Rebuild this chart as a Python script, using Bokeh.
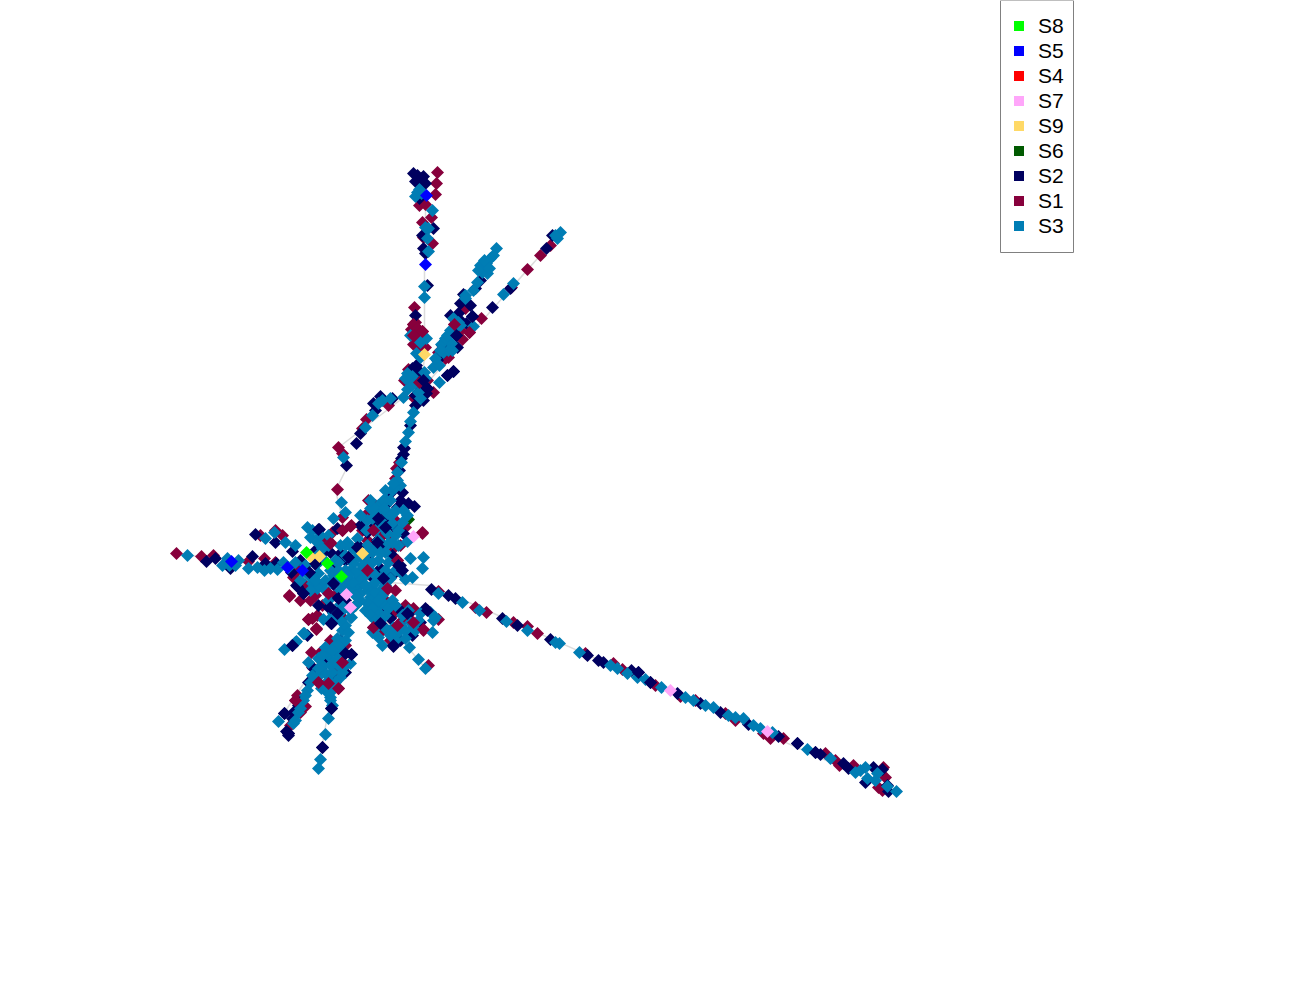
from math import pi, nan
from bokeh.plotting import figure
from bokeh.models import Legend, LegendItem, BoxAnnotation
from bokeh.embed import file_html
from bokeh.resources import INLINE

S1 = [(437,172),(436,183),(435,194),(419,205),(425,204),(431,217),(422,222),(432,243),(423,237),
(414,307),(413,324),(417,328),(422,331),(413,335),(418,337),(413,344),(425,347),(418,347),(411,329),(415,322),(420,340),
(408,369),(404,380),(419,382),(433,392),(413,397),(399,462),(395,478),(396,468),(410,376),(427,380),
(465,308),(454,324),(469,332),(462,339),(438,352),(448,357),(481,318),(460,330),(445,358),
(540,255),(527,269),(511,287),(550,245),
(388,405),(366,419),(338,447),(342,453),(362,428),
(337,489),(342,530),(351,525),(342,517),(367,513),(373,527),(390,537),(380,537),(422,532),(393,548),(373,548),(397,560),(330,542),(387,589),(375,505),(385,512),(362,530),(405,527),(400,545),(367,540),(380,525),(395,520),(368,500),
(328,593),(308,619),(317,615),(316,629),(289,596),(295,578),(342,617),(373,627),(413,608),(412,622),(423,630),(438,619),(402,620),(367,610),(428,665),(335,595),(322,605),(300,600),(395,612),(405,605),(390,640),(380,632),(395,590),(385,600),(345,605),(315,595),(365,570),
(176,553),(201,556),(213,555),(248,561),(264,558),(275,562),(302,591),(275,530),(260,535),(282,535),(293,577),(305,585),(297,570),(325,540),(332,532),(300,565),(310,600),
(308,619),(342,617),(311,652),(320,652),(342,662),(318,682),(328,683),(338,688),(295,700),(290,725),(300,712),(312,667),(297,695),(305,706),(330,640),(335,670),(345,645),
(438,591),(475,607),(486,612),(513,622),(527,626),(537,633),(585,653),(613,663),(622,669),(655,685),(680,696),(695,700),(725,713),(735,720),(763,733),(770,738),(783,738),(825,753),(835,760),(839,765),(853,765),(883,767),(885,777),(878,787),(882,790)]

S2 = [(413,173),(417,175),(423,176),(415,181),(425,183),(421,178),(419,198),(433,228),(422,235),(423,248),(425,253),(427,285),
(415,315),(417,370),(416,365),(423,380),(427,388),(423,400),(422,395),(453,371),(447,375),(415,405),(410,425),(403,447),(403,454),(420,372),(426,393),(418,385),(412,378),(415,395),(424,392),(418,375),(412,368),(399,470),(401,458),(404,448),
(480,280),(475,288),(463,294),(460,303),(458,313),(472,316),(466,323),(456,335),(445,340),(457,347),(437,360),(452,330),(440,355),(448,345),(460,320),(442,345),(470,305),(450,315),
(552,235),(546,248),(492,307),(510,288),
(380,396),(373,403),(392,398),(375,410),(360,433),(356,443),(346,465),
(402,492),(414,506),(408,503),(390,493),(397,507),(378,517),(377,540),(370,560),(337,528),(319,529),(340,553),(348,557),(330,552),(367,532),(385,520),(372,510),(400,500),(385,505),(375,525),(395,528),(360,525),(405,535),(383,545),(392,555),
(387,577),(373,578),(333,584),(328,607),(338,597),(398,608),(382,625),(393,646),(408,614),(425,608),(358,545),(303,593),(297,586),(331,623),(380,568),(392,575),(400,565),(345,560),(320,560),(335,612),(318,605),(345,600),(390,618),(420,622),(412,635),(400,640),(385,612),(350,560),(335,565),
(206,561),(215,558),(230,568),(252,556),(265,563),(276,563),(255,534),(275,542),(292,551),(291,572),(296,585),(315,564),(318,530),(308,572),(300,560),(325,550),(315,550),
(284,713),(292,718),(288,733),(322,747),(331,708),(331,623),(307,635),(292,645),(351,654),(345,653),(325,658),(313,668),(302,700),(293,712),(308,682),(332,677),(340,640),(335,650),(345,672),(320,668),(298,705),(288,735),(286,731),
(431,589),(448,595),(455,598),(502,618),(517,625),(550,639),(587,655),(598,660),(603,662),(638,672),(631,670),(650,682),(677,693),(700,703),(720,712),(748,724),(778,736),(797,743),(815,752),(820,754),(843,763),(848,768),(873,767),(882,769),(865,782),(888,791),(887,785)]

S3 = [(417,192),(419,189),(432,210),(425,227),(428,228),(427,238),(428,251),(424,286),(424,297),(421,193),(415,196),
(426,338),(420,342),(410,335),(416,353),(420,357),
(407,373),(409,380),(407,389),(403,397),(424,372),(433,367),(439,365),(439,382),(418,392),(413,412),(410,421),(408,432),(405,441),(397,472),(412,376),(415,382),(400,485),(392,490),(386,500),(412,385),(405,378),(420,398),(425,378),(401,462),(397,480),(394,487),
(496,248),(493,255),(490,258),(484,267),(482,272),(487,273),(477,282),(473,290),(465,295),(450,330),(453,318),(458,322),(441,344),(451,343),(443,352),(448,350),(473,326),(480,265),(486,263),(478,270),(484,260),(489,268),(445,338),(455,327),(447,335),(440,350),(435,358),(452,350),(460,325),(465,298),
(560,232),(557,238),(503,294),(513,283),(555,235),
(378,403),(372,415),(365,427),(390,398),(343,457),(382,400),
(393,483),(390,500),(378,505),(370,508),(387,513),(392,523),(367,520),(407,515),(387,533),(367,545),(347,542),(357,538),(345,512),(333,518),(341,502),(307,527),(398,545),(407,541),(380,520),(375,530),(395,535),(383,500),(376,512),(372,518),(382,527),(390,515),(384,508),(395,510),(378,540),(372,552),(362,558),(352,548),(388,543),(345,545),(340,545),(398,530),(403,510),(373,507),(385,490),(393,513),(366,530),(376,548),(385,552),(392,542),(402,522),(370,500),(360,515),
(423,557),(410,558),(422,568),(412,577),(405,579),
(353,563),(360,570),(347,580),(357,587),(363,583),(350,570),(360,593),(373,600),(377,607),(370,597),(383,603),(367,603),(343,587),(353,593),(365,575),(375,575),(385,570),(390,578),(345,570),(355,550),(365,555),(378,560),(395,570),(380,590),(372,585),(350,588),(378,612),(368,590),(358,578),(355,572),(362,565),(370,570),(352,582),(375,592),(365,610),(372,608),(382,595),(388,608),(378,600),(385,615),(370,615),(375,620),(360,600),(355,605),(348,575),(358,556),(368,562),(380,553),(388,562),(400,572),(372,562),(380,578),(365,585),(345,592),(392,600),(395,605),(375,582),(385,585),(340,578),(355,595),(345,555),(338,562),
(323,619),(335,613),(351,617),(303,633),(295,642),(284,649),(340,604),(328,600),(320,585),(342,610),(330,618),(350,610),
(378,637),(382,645),(397,633),(405,630),(413,627),(420,613),(435,617),(432,632),(409,647),(418,659),(425,668),(393,627),(402,615),(385,628),(410,622),(400,625),(395,640),(378,625),(418,620),(430,612),(433,620),(405,638),(415,630),(390,635),(382,618),(372,632),(408,610),
(187,555),(222,565),(227,558),(238,560),(248,568),(264,570),(257,567),(277,569),(288,567),(285,542),(295,545),(265,538),(274,532),(310,537),(317,542),(317,555),(312,583),(317,588),(318,573),(308,575),(330,570),(325,580),(229,565),(270,568),(322,548),(322,558),(328,535),(335,560),(333,575),(315,580),(325,590),(338,570),(305,565),(318,562),(312,530),(320,535),(300,580),(310,590),(295,562),(328,545),(340,590),(330,582),(235,565),(283,562),
(296,641),(304,633),(333,613),(350,617),(308,662),(318,658),(325,647),(342,630),(337,638),(332,663),(325,673),(332,672),(340,677),(345,665),(350,663),(338,653),(310,682),(307,690),(321,688),(330,697),(330,700),(300,708),(293,723),(278,721),(328,718),(325,734),(320,759),(318,768),(317,677),(328,655),(335,645),(345,625),(340,620),(322,665),(330,665),(338,665),(328,680),(335,682),(325,690),(335,660),(345,640),(332,690),(328,692),(298,712),(295,720),(303,700),(318,668),(312,675),(342,650),(338,645),(322,655),(332,650),(348,632),(342,672),(305,695),(332,705),
(438,593),(462,602),(479,610),(506,621),(527,630),(555,642),(559,643),(579,652),(610,665),(617,668),(627,673),(637,677),(645,679),(661,687),(685,697),(693,700),(705,705),(713,707),(728,715),(735,717),(743,718),(753,725),(760,728),(772,732),(807,749),(830,758),(855,772),(860,770),(865,767),(867,778),(877,773),(875,780),(887,786),(896,791)]

S1_top = [(350,526),(342,530),(373,530),(387,588),(397,560),(413,622),(423,629),(397,625),(373,627),(328,593),(312,618),(316,628),(289,595),(422,533),(367,570),(330,543),
(413,324),(417,328),(422,331),(413,335),(328,683),(318,682),(338,688),(342,662),(295,700),(419,382),(454,324),(469,332)]
S2_top = [(378,518),(385,527),(377,542),(398,565),(383,578),(402,570),(333,583),(338,598),(330,607),(337,613),(331,623),(407,613),(427,610),(380,623),(393,645),(348,557),(357,547),(318,529),(315,563),(309,572),(303,593),
(351,654),(345,653),(331,623),(331,708),(284,713),(288,733),(322,747),(292,645),(423,380),(427,388),(453,371),(447,375),(456,335),(472,316),(638,672),(650,682),(797,743),(815,752)]

S6 = [(408,519),(355,605)]
S9 = [(424,354),(310,556),(319,556),(362,553)]
S7 = [(413,536),(346,594),(350,607),(670,690),(767,731)]
S4 = []
S5 = [(426,195),(425,264),(231,561),(287,567),(302,570)]
S8 = [(306,552),(327,563),(341,576)]

edges = [
 [(424,264),(424,355),(420,400),(405,441),(397,472),(380,510),(360,570)],
 [(425,180),(425,264)],
 [(360,580),(430,585),(896,791)],
 [(415,395),(496,248)],
 [(420,390),(560,232)],
 [(403,397),(338,447),(345,470),(335,490),(345,530)],
 [(176,553),(340,575)],
 [(318,768),(326,720),(345,640),(355,600)],
 [(278,721),(325,650)],
 [(360,590),(425,668)],
]

legend_order = ["S8", "S5", "S4", "S7", "S9", "S6", "S2", "S1", "S3"]
colors = dict(S8="#00ff00", S5="#0000ff", S4="#ff0000", S7="#ffa6fa", S9="#ffd966",
              S6="#005a00", S2="#00005f", S1="#87003c", S3="#007db4")
layers = [("S6", S6), ("S1", S1), ("S2", S2), ("S3", S3), ("S1", S1_top), ("S2", S2_top),
          ("S9", S9), ("S7", S7), ("S4", S4), ("S5", S5), ("S8", S8)]

p = figure(width=1300, height=1000, x_range=(0, 1300), y_range=(1000, 0),
           output_backend="svg", toolbar_location=None, x_axis_type=None, y_axis_type=None,
           min_border=0, outline_line_color=None, background_fill_color="white")
p.grid.visible = False

p.multi_line([[a for a, _ in e] for e in edges], [[b for _, b in e] for e in edges],
             line_color="#dcdcdc", line_width=1.5)

for s, pts in layers:
    xs = [a for a, _ in pts]
    ys = [b for _, b in pts]
    p.scatter(xs, ys, marker="square", angle=pi / 4, size=9.2, fill_color=colors[s], line_color=None)

p.add_layout(BoxAnnotation(left=1000, right=1073, top=0, bottom=252, fill_color="white", fill_alpha=1,
                           line_color="#808080", line_alpha=1, line_width=1))

items = []
for s in legend_order:
    r = p.scatter([nan], [nan], marker="square", size=10, fill_color=colors[s], line_color=None)
    items.append(LegendItem(label=s, renderers=[r]))
legend = Legend(items=items, location=(1006, 762), orientation="vertical", border_line_color=None,
                background_fill_alpha=0, padding=0, margin=0, spacing=0, glyph_width=25, glyph_height=25,
                label_height=25, label_standoff=7, label_text_font="Liberation Sans",
                label_text_font_size="21px", label_text_color="black")
p.add_layout(legend, "center")

open("out.html", "w").write(file_html(p, INLINE))
